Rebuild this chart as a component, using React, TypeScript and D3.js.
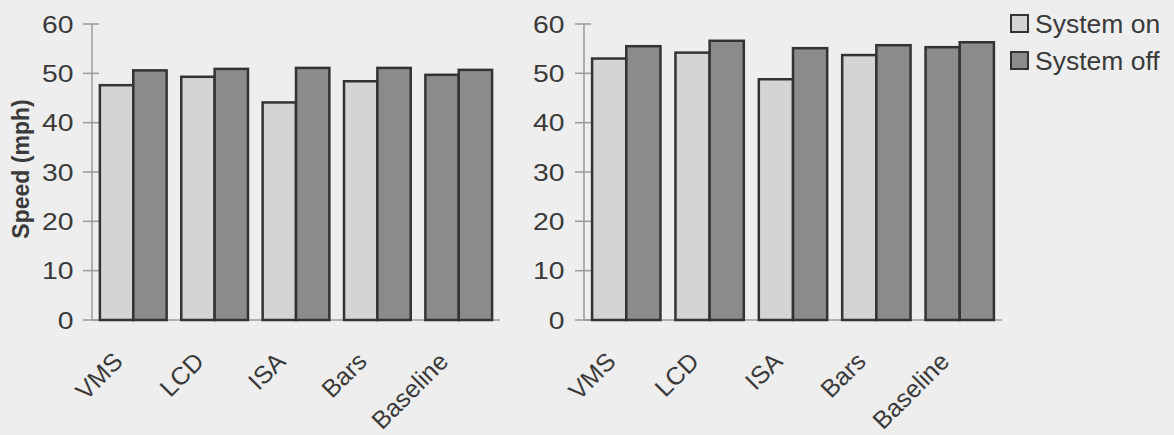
import React from "react";
import * as d3 from "d3";

const categories = ["VMS", "LCD", "ISA", "Bars", "Baseline"];
const series = ["System on", "System off"];
const leftOn = [47.6, 49.3, 44.1, 48.4, 49.7];
const leftOff = [50.6, 50.9, 51.1, 51.1, 50.7];
const rightOn = [53.0, 54.2, 48.8, 53.7, 55.3];
const rightOff = [55.5, 56.6, 55.1, 55.7, 56.3];
const yTicks = [0, 10, 20, 30, 40, 50, 60];

const W = 1174;
const H = 435;
const FONT = "'Liberation Sans', Arial, Helvetica, sans-serif";
const BG = "#eeeeee";
const LIGHT = "#d4d4d4";
const DARK = "#8b8b8b";
const OUTLINE = "#333333";
const AXIS = "#9a9a9a";
const TEXT = "#3a3a3a";
const STRETCH = 1.18;

const y = d3.scaleLinear().domain([0, 60]).range([320, 24]);

function Panel({ x0, x1, on, off, labelX }: { x0: number; x1: number; on: number[]; off: number[]; labelX: number }) {
  const xb = d3.scaleBand<string>().domain(categories).range([x0, x1]).paddingInner(0.18).paddingOuter(0.097);
  const xs = d3.scaleBand<string>().domain(series).range([0, xb.bandwidth()]);
  const vals = [on, off];
  return (
    <g>
      <line x1={x0} x2={x0} y1={y(60)} y2={y(0)} stroke={AXIS} strokeWidth={1.5} />
      <line x1={x0} x2={x1} y1={y(0)} y2={y(0)} stroke={AXIS} strokeWidth={1.5} />
      {yTicks.map((t) => (
        <g key={t}>
          <line x1={x0 - 9} x2={x0 + 7} y1={y(t)} y2={y(t)} stroke={AXIS} strokeWidth={1.5} />
          <text
            transform={`translate(${labelX},${y(t)}) scale(${STRETCH},1)`}
            dy="0.36em"
            textAnchor="end"
            fontSize={24}
            fill={TEXT}
            fontFamily={FONT}
          >
            {t}
          </text>
        </g>
      ))}
      {categories.map((c, i) => (
        <g key={c}>
          {series.map((s, j) => {
            const v = vals[j][i];
            const fill = j === 0 && c !== "Baseline" ? LIGHT : DARK;
            return (
              <rect
                key={s}
                x={(xb(c) as number) + (xs(s) as number)}
                y={y(v)}
                width={xs.bandwidth()}
                height={y(0) - y(v)}
                fill={fill}
                stroke={OUTLINE}
                strokeWidth={2.5}
              />
            );
          })}
          <text
            transform={`translate(${(xb(c) as number) + xb.bandwidth() / 2 - 9},${363}) rotate(-45)`}
            textAnchor="end"
            fontSize={25}
            fill={TEXT}
            fontFamily={FONT}
          >
            {c}
          </text>
        </g>
      ))}
    </g>
  );
}

export default function App() {
  return (
    <svg width={W} height={H} style={{ position: "absolute", left: 0, top: 0, display: "block" }}>
      <rect x={0} y={0} width={W} height={H} fill={BG} />
      <text
        transform={`translate(29,169) rotate(-90)`}
        textAnchor="middle"
        fontSize={23}
        fontWeight="bold"
        fill={TEXT}
        fontFamily={FONT}
      >
        Speed (mph)
      </text>
      <Panel x0={92} x1={500} on={leftOn} off={leftOff} labelX={73.5} />
      <Panel x0={584} x1={1002} on={rightOn} off={rightOff} labelX={564.5} />
      {series.map((s, i) => (
        <g key={s}>
          <rect x={1011} y={15 + i * 37} width={17} height={17} fill={i === 0 ? LIGHT : DARK} stroke={OUTLINE} strokeWidth={2} />
          <text
            transform={`translate(1035,${33 + i * 37}) scale(1.06,1)`}
            fontSize={25}
            fill={TEXT}
            fontFamily={FONT}
          >
            {s}
          </text>
        </g>
      ))}
    </svg>
  );
}
